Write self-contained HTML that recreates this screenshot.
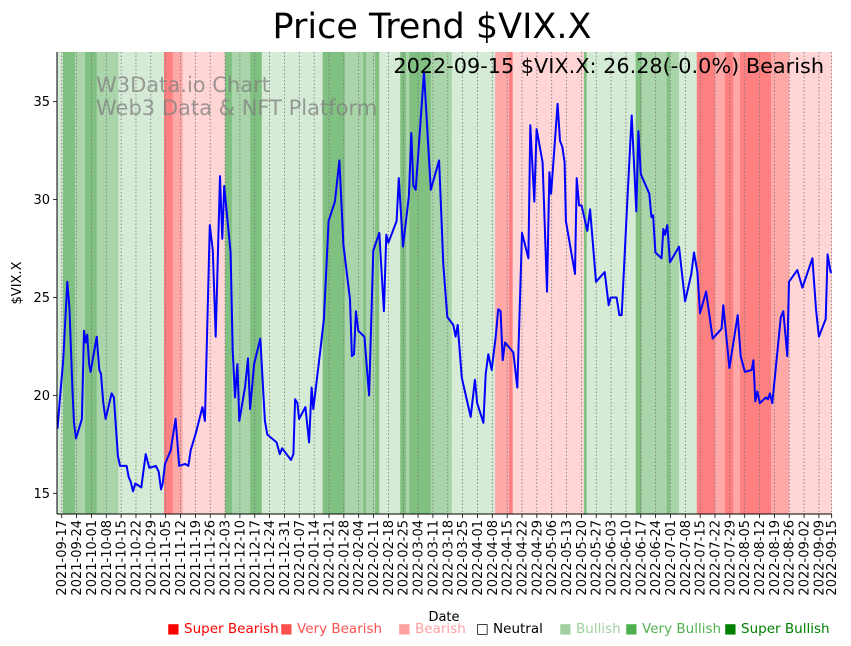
<!DOCTYPE html>
<html><head><meta charset="utf-8"><style>
body{margin:0;background:#fff;}
svg{display:block;font-family:"DejaVu Sans","Liberation Sans",sans-serif;}
</style></head><body>
<svg id="chart" width="851" height="646" viewBox="0 0 851 646" xmlns="http://www.w3.org/2000/svg">
<g id="bands"></g>
<g id="grid"></g>
<text x="96" y="92" font-size="21" fill="#7f7f7f" fill-opacity="0.75">W3Data.io Chart</text>
<text x="96" y="115" font-size="21" fill="#7f7f7f" fill-opacity="0.75">Web3 Data &amp; NFT Platform</text>
<g id="series"></g>
<g id="axes"></g>
<text x="432" y="38" font-size="35" text-anchor="middle">Price Trend $VIX.X</text>
<text x="824" y="73" font-size="20.8" text-anchor="end">2022-09-15 $VIX.X: 26.28(-0.0%) Bearish</text>
<text transform="translate(21,283) rotate(-90)" font-size="13" text-anchor="middle">$VIX.X</text>
<text x="444" y="621" font-size="13" text-anchor="middle">Date</text>
<g id="legend" font-size="13.5"></g>
</svg>
<script>
const days=[0,1.2,2.7,4.6,5.6,7.1,7.8,8.7,11.5,12.5,13.3,14,14.9,15.6,18.5,19.7,20.5,21.6,22.7,25.5,26.6,28.5,29.5,32.6,33.6,34.5,35.6,36.7,39.5,41.6,43.3,46.4,47.7,48.8,49.6,50.7,53.4,54.1,55.7,57.4,60.1,61.7,62.8,65.3,68.3,69.5,71.8,73.2,74.6,76.6,77.7,78.6,81.6,82.6,83.7,84.8,85.7,88.4,89.8,90.8,92.7,95.6,97.8,98.9,103.3,104.8,105.9,110.1,111.2,112,113.1,113.9,116.9,118.6,119.8,120.6,123.8,125.6,127.8,130.8,132.9,134.8,137.9,138.8,139.8,140.7,141.8,144.7,146.9,148.9,151.7,153.9,155,156,159.9,160.9,162.9,165.7,166.8,167.8,168.9,172.8,176,179.9,181.9,183.8,186.6,187.7,188.7,190.6,194.8,196.8,197.9,200.8,201.9,203.1,204.7,206.6,207.8,208.9,209.9,211,214.9,216.8,219,222,222.9,224.8,225.9,228.7,230.8,231.9,232.7,235.8,236.9,238,239.1,239.7,244,244.8,245.9,247.1,249.8,251.1,253.9,258,259.9,260.8,263.6,264.9,266,268.4,270.7,272.9,273.9,275,279,280,280.8,281.9,284.8,285.6,286.4,287.5,288.8,293,295.9,298.8,300.1,301.7,302.9,305.8,308.9,313.1,313.9,316.8,320.7,322.1,324.1,327.3,328.1,329,330,331.1,334,335,335.9,337,341,342.2,344.1,344.9,348.8,351.2,355.9,357.6,359,362.2,363.1,364.5,365];
const values=[18.3,19.9,21.8,25.8,24.5,20.1,18.6,17.8,18.8,23.3,22.7,23.1,21.6,21.2,23.0,21.3,21.1,19.6,18.8,20.1,19.9,16.9,16.4,16.4,15.8,15.6,15.1,15.5,15.3,17.0,16.3,16.4,16.1,15.2,15.5,16.5,17.2,17.7,18.8,16.4,16.5,16.4,17.2,18.1,19.4,18.7,28.7,27.4,23.0,31.2,28.0,30.7,27.3,22.3,19.9,21.6,18.7,20.4,21.9,19.3,21.6,22.9,18.7,18.0,17.6,17.0,17.3,16.7,17.0,19.8,19.6,18.8,19.4,17.6,20.4,19.3,22.2,23.9,28.9,29.9,32.0,27.7,24.9,22.0,22.1,24.3,23.3,23.0,20.0,27.4,28.3,24.3,28.2,27.8,28.9,31.1,27.6,30.2,33.4,30.7,30.5,36.5,30.5,32.0,26.7,24.0,23.6,23.0,23.6,20.9,18.9,20.8,19.6,18.6,21.1,22.1,21.3,23.0,24.4,24.3,21.8,22.7,22.2,20.4,28.3,27.0,33.8,29.9,33.6,31.9,25.3,31.4,30.3,34.9,33.0,32.7,31.9,28.9,26.2,31.1,29.7,29.7,28.4,29.5,25.8,26.3,24.6,25.0,25.0,24.1,24.1,29.4,34.3,29.4,33.5,31.3,30.3,29.1,29.2,27.3,27.0,28.5,28.2,28.7,26.8,27.6,24.8,26.2,27.3,26.3,24.2,25.3,22.9,23.4,24.6,21.4,24.1,22.0,21.2,21.3,21.8,19.7,20.2,19.6,19.9,19.8,20.1,19.6,24.0,24.3,22.0,25.8,26.4,25.5,27.0,24.4,23.0,23.9,27.2,26.3,26.28];
const bandStart=[0,2.5,8.3,13,18.5,28.7,50.2,54.3,59,79,82.2,90.8,96.3,125,135.4,144.2,145.5,149.8,151.7,161.6,164.3,165.8,176,185.9,206.3,212.9,214.6,248.2,249.5,272.6,275.4,287.2,288.7,293,301.4,310,314.7,318.6,321.8,336.4,344.9];
const bandEnd=[2.5,8.3,13,18.5,28.7,50.2,54.3,59,79,82.2,90.8,96.3,125,135.4,144.2,145.5,149.8,151.7,161.6,164.3,165.8,176,185.9,206.3,212.9,214.6,248.2,249.5,272.6,275.4,287.2,288.7,293,301.4,310,314.7,318.6,321.8,336.4,344.9,365];
const bandLevel=[1,3,2,3,2,1,-3,-2,-1,3,2,3,1,3,2,3,2,3,1,3,2,3,2,1,-2,-3,-1,3,1,3,2,3,2,1,-3,-2,-3,-2,-3,-2,-1];
const yTicks=[15,20,25,30,35];
const legendLabels=["Super Bearish","Very Bearish","Bearish","Neutral","Bullish","Very Bullish","Super Bullish"];

const NS="http://www.w3.org/2000/svg";
const L=57,R=832,T=52,B=514;
const X=d=>57.5+d*2.121;
const Y=v=>493.3-(v-15)*19.58;
const bandColor={"-3":"#ff8080","-2":"#ffa8a8","-1":"#ffd5d5","1":"#d5ebd5","2":"#aad5aa","3":"#80c080"};
function mk(tag,attrs,parent){const e=document.createElementNS(NS,tag);for(const k in attrs)e.setAttribute(k,attrs[k]);parent.appendChild(e);return e;}

const gb=document.getElementById('bands');
for(let i=0;i<bandStart.length;i++){
  const r=mk('rect',{x:X(bandStart[i]),y:T,width:X(bandEnd[i])-X(bandStart[i])+0.3,height:B-T,fill:bandColor[bandLevel[i]]},gb);
  
  
}
const gg=document.getElementById('grid'),ga=document.getElementById('axes');
const start=new Date(Date.UTC(2021,8,17));
const tickDays=[];for(let k=0;k<=51;k++)tickDays.push(2+7*k);tickDays.push(365);
function fmt(d){const dt=new Date(start.getTime()+(d-2)*86400000);return dt.toISOString().slice(0,10);}
tickDays.forEach(d=>{
  const x=X(d);
  const gl=mk('line',{x1:x,x2:x,y1:T,y2:B,stroke:'#777','stroke-width':0.8,'stroke-dasharray':'1.5,2'},gg);
  
  
  mk('line',{x1:x,x2:x,y1:B,y2:B+4,stroke:'#000','stroke-width':0.8},ga);
  const t=mk('text',{transform:`translate(${x+4.5},${B+6}) rotate(-90)`,'font-size':13,'text-anchor':'end'},ga);
  t.textContent=fmt(d);
  
  
});
yTicks.forEach(v=>{
  const y=Y(v);
  mk('line',{x1:L-4,x2:L,y1:y,y2:y,stroke:'#000','stroke-width':0.8},ga);
  const t=mk('text',{x:L-7,y:y+4.5,'font-size':13,'text-anchor':'end'},ga);
  t.textContent=v;
  
  
});
mk('line',{x1:L,x2:L,y1:T,y2:B,stroke:'#000','stroke-width':1},ga);
mk('line',{x1:L,x2:R,y1:B,y2:B,stroke:'#000','stroke-width':1},ga);
const p=mk('polyline',{points:days.map((d,i)=>X(d).toFixed(1)+','+Y(values[i]).toFixed(1)).join(' '),fill:'none',stroke:'#0000ff','stroke-width':2,'stroke-linejoin':'round'},document.getElementById('series'));


const lg=document.getElementById('legend');
const legX=[167,280,398,476,559,625,724];
const legCol=["#ff0000","#ff5050","#ffa0a0","#000000","#a0d0a0","#50b050","#008000"];
legendLabels.forEach((s,i)=>{
  const t=mk('text',{x:legX[i],y:633,fill:legCol[i]},lg);
  t.textContent=(i===3?'□ ':'■ ')+s;
  
  
});
</script>
</body></html>
